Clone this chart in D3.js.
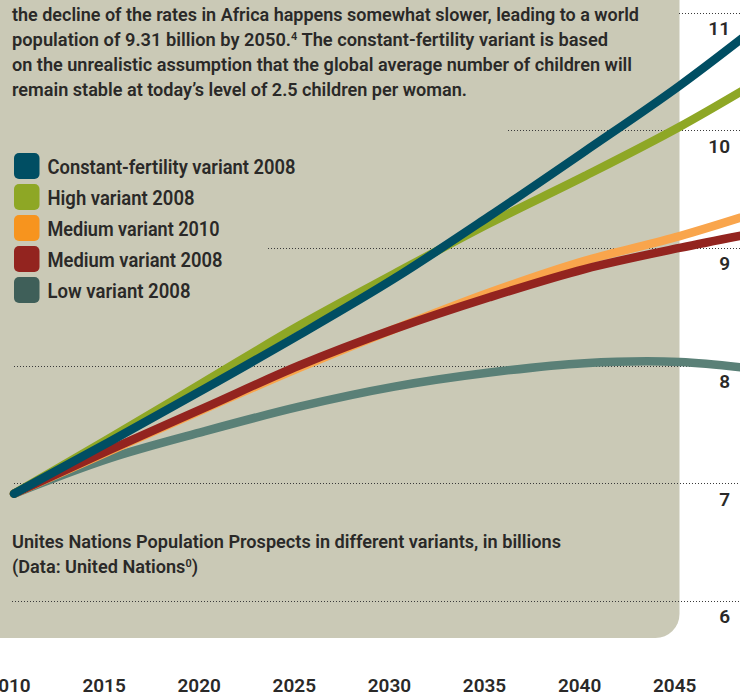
<!DOCTYPE html>
<html>
<head>
<meta charset="utf-8">
<script src="https://cdn.jsdelivr.net/npm/d3@7"></script>
<style>
  html, body { margin: 0; padding: 0; background: #ffffff; }
  svg { display: block; }
  text { font-family: Roboto, "Noto Sans", "DejaVu Sans", sans-serif; fill: #2a2928; }
</style>
</head>
<body>
<div id="chart"></div>
<script>
// ---------- data ----------
const years = [2010, 2015, 2020, 2025, 2030, 2035, 2040, 2045, 2050];
const constantFertility2008 = [6.91, 7.35, 7.80, 8.26, 8.74, 9.27, 9.82, 10.38, 11.00];
const high2008 = [6.91, 7.38, 7.86, 8.34, 8.78, 9.21, 9.61, 10.03, 10.50];
const medium2010 = [6.91, 7.27, 7.63, 7.98, 8.31, 8.62, 8.89, 9.10, 9.35];
const medium2008 = [6.91, 7.28, 7.64, 8.00, 8.31, 8.58, 8.82, 9.00, 9.16];
const low2008 = [6.91, 7.21, 7.44, 7.65, 7.82, 7.94, 8.02, 8.03, 7.95];

const seriesNames = ["Constant-fertility variant 2008", "High variant 2008", "Medium variant 2010", "Medium variant 2008", "Low variant 2008"];
const seriesValues = [constantFertility2008, high2008, medium2010, medium2008, low2008];
const xTickLabels = ["2010", "2015", "2020", "2025", "2030", "2035", "2040", "2045"];
const yTickLabels = ["6", "7", "8", "9", "10", "11"];

const introLines = [
  "the decline of the rates in Africa happens somewhat slower, leading to a world",
  "population of 9.31 billion by 2050.|4| The constant-fertility variant is based",
  "on the unrealistic assumption that the global average number of children will",
  "remain stable at today\u2019s level of 2.5 children per woman."
];
const captionLines = [
  "Unites Nations Population Prospects in different variants, in billions",
  "(Data: United Nations|0|)"
];

// ---------- styles / layout ----------
const W = 740, H = 694;
const legendColors = ["#004e63", "#8ea725", "#f7941e", "#93241f", "#3f5f59"];
const lineColors   = ["#004e63", "#8ea725", "#f9a54c", "#93241f", "#5a8077"];
const drawOrder = [4, 2, 3, 1, 0];
const gridStartX = { 6: 12, 7: 14, 8: 14, 9: 268, 10: 508, 11: 679 };
const introWidths = [627, 596, 620, 455];
const captionWidths = [549, 186];
const legendWidths = [248, 147, 172, 175, 143];

const svg = d3.select("#chart").append("svg")
  .attr("width", W).attr("height", H);

const x = d3.scaleLinear().domain([2010, 2050]).range([14, 14 + 40 * 19.02]);
const y = d3.scaleLinear().domain([6, 11]).range([600.7, 12.7]);

// panel
const px = 679.5, py = 638, r = 24;
svg.append("path")
  .attr("d", `M0,0 H${px} V${py - r} A${r},${r} 0 0 1 ${px - r},${py} H0 Z`)
  .attr("fill", "#cac9b6");

// grid lines
svg.append("g").selectAll("line")
  .data(yTickLabels.map(Number))
  .join("line")
  .attr("x1", d => gridStartX[d]).attr("x2", W)
  .attr("y1", d => Math.round(y(d)) + 0.5).attr("y2", d => Math.round(y(d)) + 0.5)
  .attr("stroke", "#3a3a3a")
  .attr("stroke-width", 1)
  .attr("stroke-dasharray", "1 2");

// y labels
svg.append("g").selectAll("text")
  .data(yTickLabels)
  .join("text")
  .attr("x", 730)
  .attr("y", d => y(+d) + 22.5)
  .attr("text-anchor", "end")
  .attr("font-size", 19)
  .attr("font-weight", 600)
  .text(d => d);

// x labels
svg.append("g").selectAll("text")
  .data(xTickLabels)
  .join("text")
  .attr("x", d => x(+d) - 5)
  .attr("y", 692)
  .attr("text-anchor", "middle")
  .attr("font-size", 19)
  .attr("font-weight", 600)
  .text(d => d);

// lines
const line = d3.line()
  .x((d, i) => x(years[i]))
  .y(d => y(d))
  .curve(d3.curveCatmullRom.alpha(0.5));

svg.append("g").selectAll("path")
  .data(drawOrder)
  .join("path")
  .attr("d", k => line(seriesValues[k]))
  .attr("fill", "none")
  .attr("stroke", k => lineColors[k])
  .attr("stroke-width", 8.5)
  .attr("stroke-linecap", "round")
  .attr("stroke-linejoin", "round");

// helper for text with superscripts marked by |..|
function richText(sel, str) {
  const parts = str.split("|");
  parts.forEach((p, i) => {
    if (!p) return;
    if (i % 2 === 1) {
      sel.append("tspan").attr("dy", -6).attr("font-size", "0.6em").text(p);
    } else {
      const t = sel.append("tspan").text(p);
      if (i > 0) t.attr("dy", 6);
    }
  });
}

// intro paragraph
introLines.forEach((s, i) => {
  const t = svg.append("text")
    .attr("x", 12)
    .attr("y", 21 + i * 25)
    .attr("font-size", 19)
    .attr("font-weight", 600)
    .attr("textLength", introWidths[i])
    .attr("lengthAdjust", "spacingAndGlyphs");
  richText(t, s);
});

// legend
const leg = svg.append("g");
seriesNames.forEach((name, i) => {
  const cy = 166 + i * 31;
  leg.append("rect")
    .attr("x", 14).attr("y", cy - 13)
    .attr("width", 25.5).attr("height", 26)
    .attr("rx", 5).attr("ry", 5)
    .attr("fill", legendColors[i]);
  leg.append("text")
    .attr("x", 47.5).attr("y", cy + 7.5)
    .attr("font-size", 19.5)
    .attr("font-weight", 600)
    .attr("textLength", legendWidths[i])
    .attr("lengthAdjust", "spacingAndGlyphs")
    .text(name);
});

// caption
captionLines.forEach((s, i) => {
  const t = svg.append("text")
    .attr("x", 12)
    .attr("y", 548 + i * 25)
    .attr("font-size", 18)
    .attr("font-weight", 600)
    .attr("textLength", captionWidths[i])
    .attr("lengthAdjust", "spacingAndGlyphs");
  richText(t, s);
});
</script>
</body>
</html>
